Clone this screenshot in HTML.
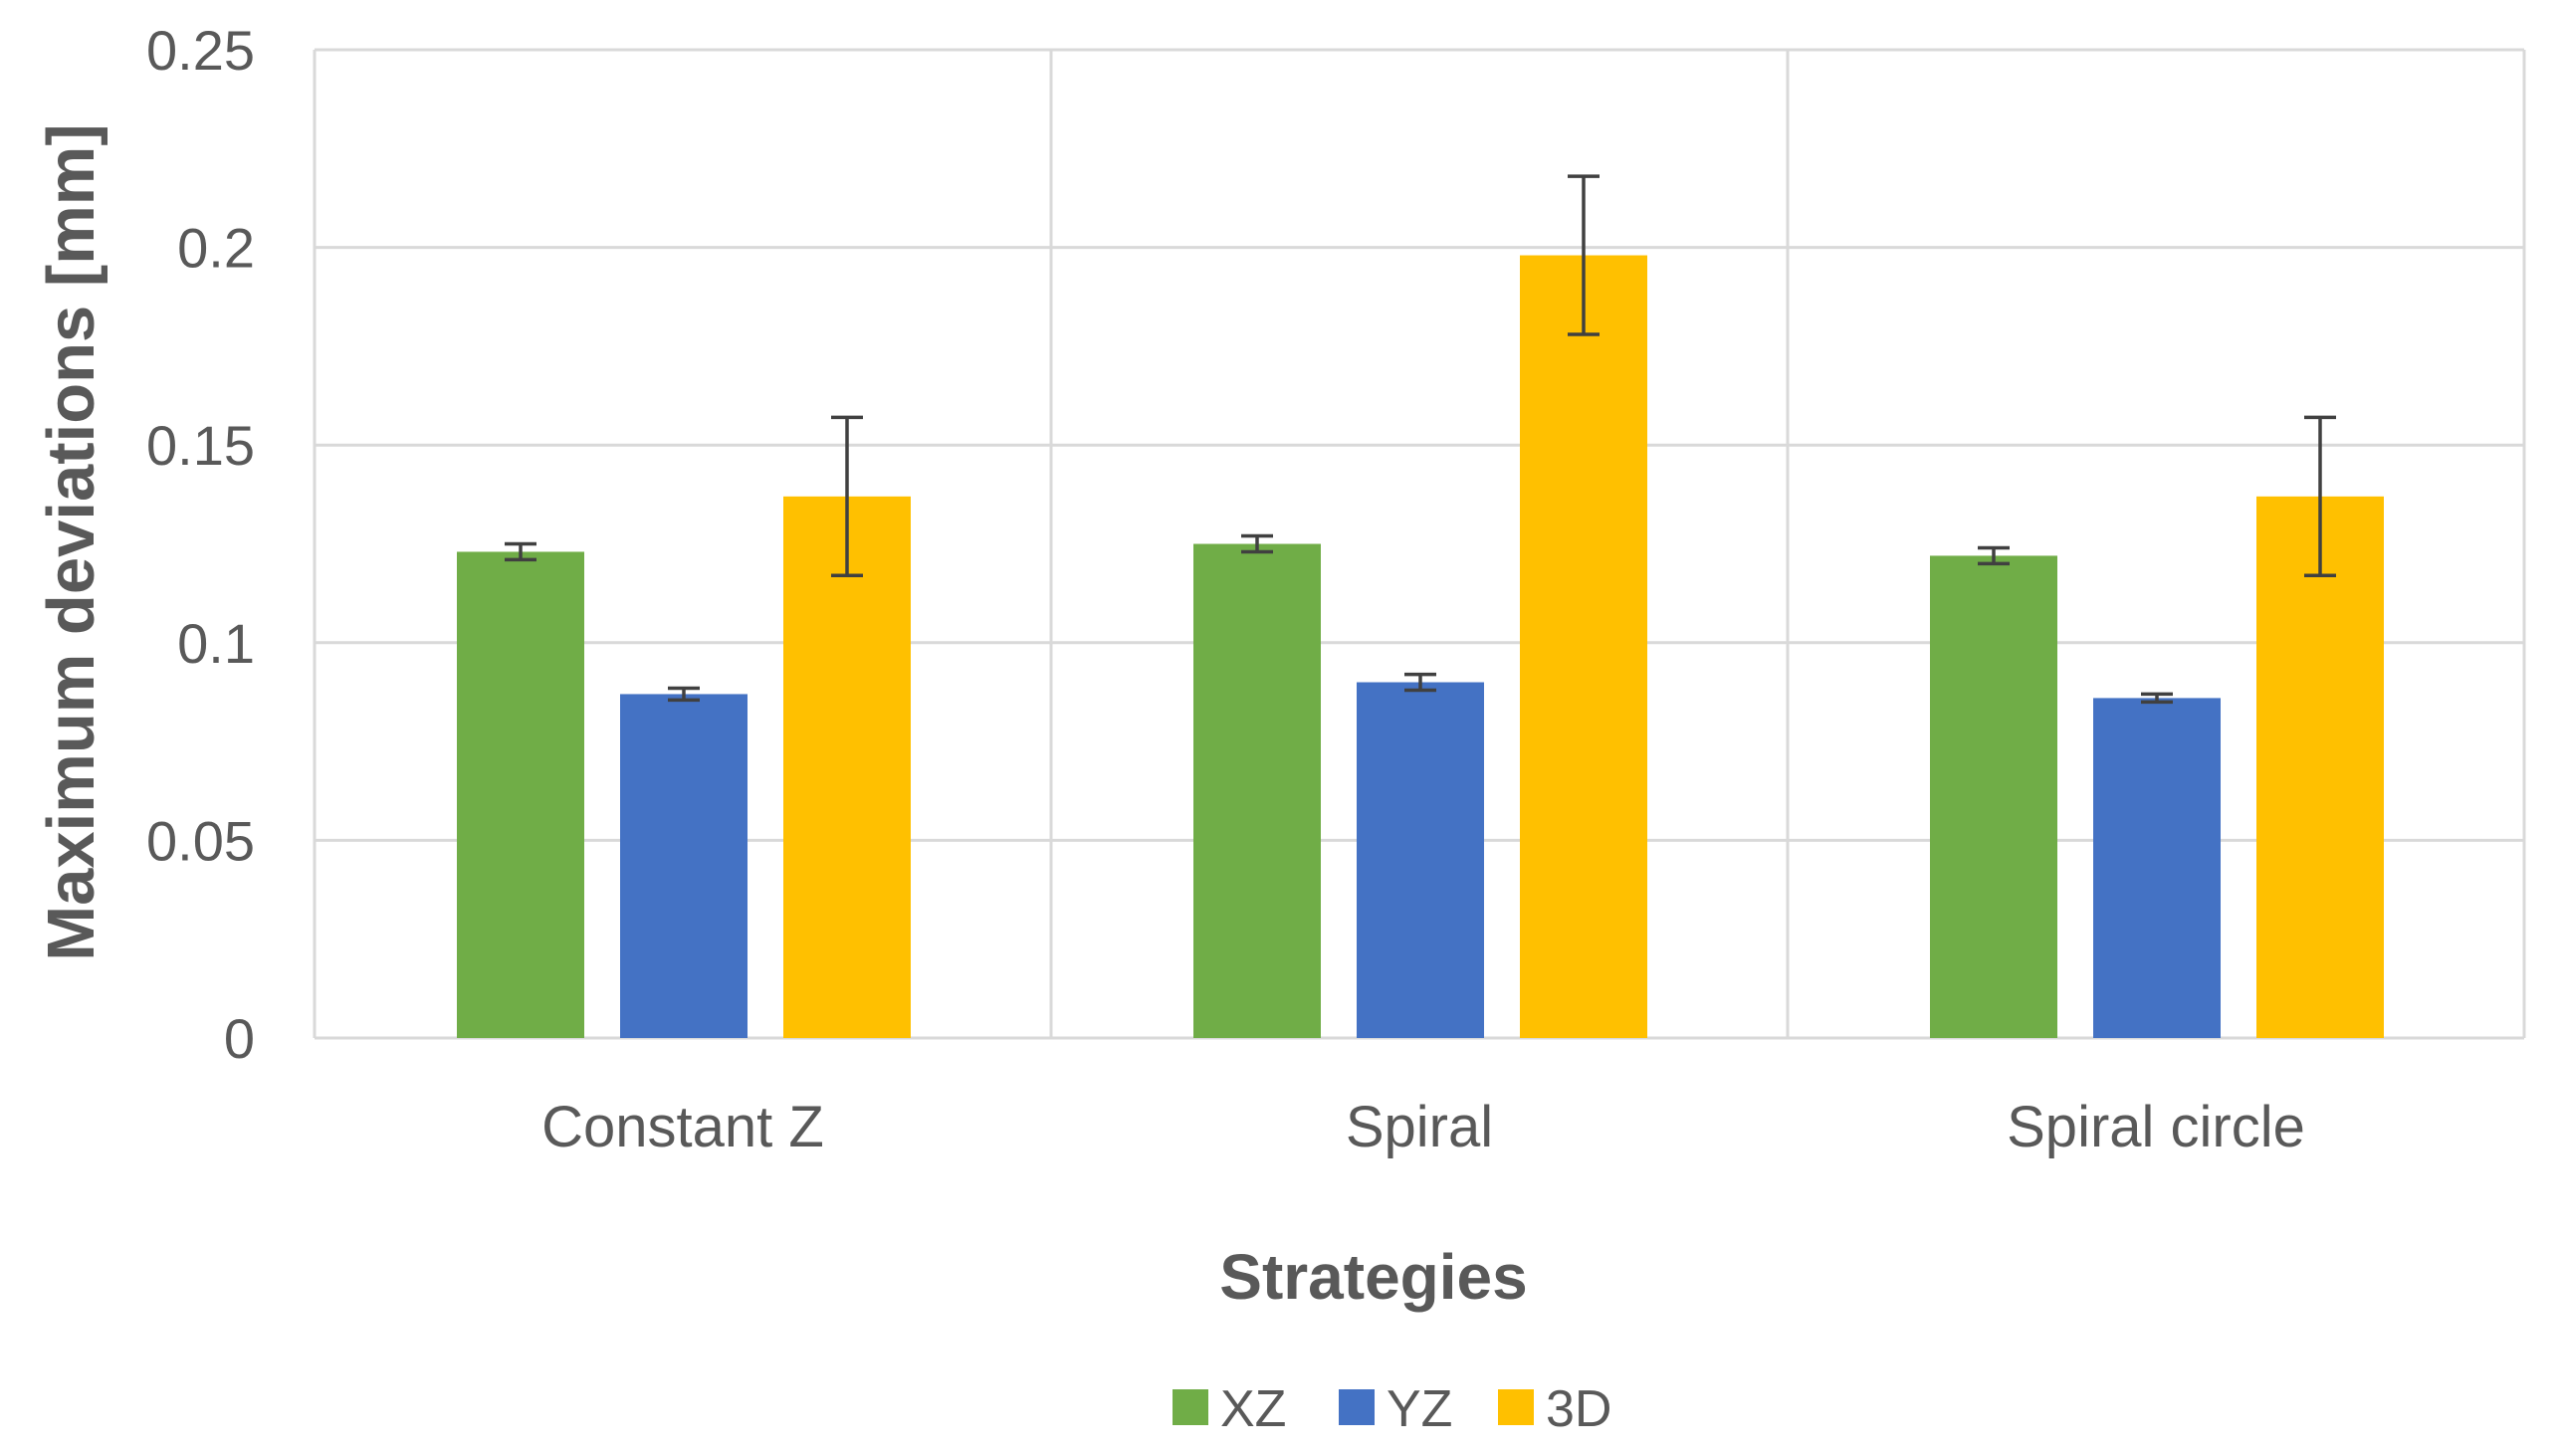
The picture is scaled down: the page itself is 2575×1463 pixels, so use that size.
<!DOCTYPE html>
<html><head><meta charset="utf-8"><style>
html,body{margin:0;padding:0;background:#fff;}
svg text{font-family:"Liberation Sans",sans-serif;fill:#595959;}
</style></head><body>
<svg id="chart" width="2575" height="1458" viewBox="0 0 2575 1458" xmlns="http://www.w3.org/2000/svg">
<g id="grid"></g>
<g id="bars"></g>
<g id="errs"></g>
<g id="axes"></g>
<text transform="translate(94,545) rotate(-90)" text-anchor="middle" font-size="67" font-weight="bold">Maximum deviations [mm]</text>
<text x="1380" y="1305" text-anchor="middle" font-size="64" font-weight="bold">Strategies</text>
<g id="legend"></g>
</svg>
<script>
const categories = ["Constant Z", "Spiral", "Spiral circle"];
const seriesNames = ["XZ", "YZ", "3D"];
const xzValues = [0.123, 0.125, 0.122];
const yzValues = [0.087, 0.090, 0.086];
const d3Values = [0.137, 0.198, 0.137];
const xzErrors = [0.002, 0.002, 0.002];
const yzErrors = [0.0015, 0.002, 0.001];
const d3Errors = [0.020, 0.020, 0.020];
const yTicks = [0, 0.05, 0.1, 0.15, 0.2, 0.25];
const yTickLabels = ["0", "0.05", "0.1", "0.15", "0.2", "0.25"];

const colors = ["#70AD47", "#4472C4", "#FFC000"];
const NS = "http://www.w3.org/2000/svg";
const L = 316, R = 2536, T = 50, B = 1043, YMAX = 0.25;
const catW = (R - L) / categories.length;
function y(v){ return B - (v / YMAX) * (B - T); }
function xCat(i){ return L + i * catW; }
function mk(tag, attrs, parent){ const e = document.createElementNS(NS, tag); for (const k in attrs) e.setAttribute(k, attrs[k]); parent.appendChild(e); return e; }
const grid = document.getElementById('grid'), bars = document.getElementById('bars'), errs = document.getElementById('errs'), axes = document.getElementById('axes'), legend = document.getElementById('legend');

yTicks.forEach((t, i) => {
  const ln = mk('line', {x1: L, x2: R, y1: y(t), y2: y(t), stroke: '#d9d9d9', 'stroke-width': 3}, grid);
  
  
  const tx = mk('text', {x: 256, y: y(t) + 20, 'text-anchor': 'end', 'font-size': 56}, axes);
  tx.textContent = yTickLabels[i];
  
  
});
for (let i = 0; i <= categories.length; i++) {
  const ln = mk('line', {x1: xCat(i), x2: xCat(i), y1: T, y2: B, stroke: '#d9d9d9', 'stroke-width': 3}, grid);
  
  
}
const vals = [xzValues, yzValues, d3Values];
const errv = [xzErrors, yzErrors, d3Errors];
const bw = 128, gap = 36, off = 143;
categories.forEach((c, i) => {
  vals.forEach((s, j) => {
    const x0 = xCat(i) + off + j * (bw + gap);
    const r = mk('rect', {x: x0, y: y(s[i]), width: bw, height: B - y(s[i]), fill: colors[j]}, bars);
    
    
    const cx = x0 + bw / 2, e = errv[j][i];
    const g = mk('g', {stroke: '#404040', 'stroke-width': 3.5}, errs);
    
    
    mk('line', {x1: cx, x2: cx, y1: y(s[i] + e), y2: y(s[i] - e)}, g);
    mk('line', {x1: cx - 16, x2: cx + 16, y1: y(s[i] + e), y2: y(s[i] + e)}, g);
    mk('line', {x1: cx - 16, x2: cx + 16, y1: y(s[i] - e), y2: y(s[i] - e)}, g);
  });
  const tx = mk('text', {x: xCat(i) + catW / 2, y: 1152, 'text-anchor': 'middle', 'font-size': 58}, axes);
  tx.textContent = c;
  
  
});
const legX = [1178, 1345, 1505];
seriesNames.forEach((n, j) => {
  const g = mk('g', {}, legend);
  
  
  mk('rect', {x: legX[j], y: 1396, width: 36, height: 36, fill: colors[j]}, g);
  const t = mk('text', {x: legX[j] + 48, y: 1433, 'font-size': 52}, g);
  t.textContent = n;
});
</script>
</body></html>
